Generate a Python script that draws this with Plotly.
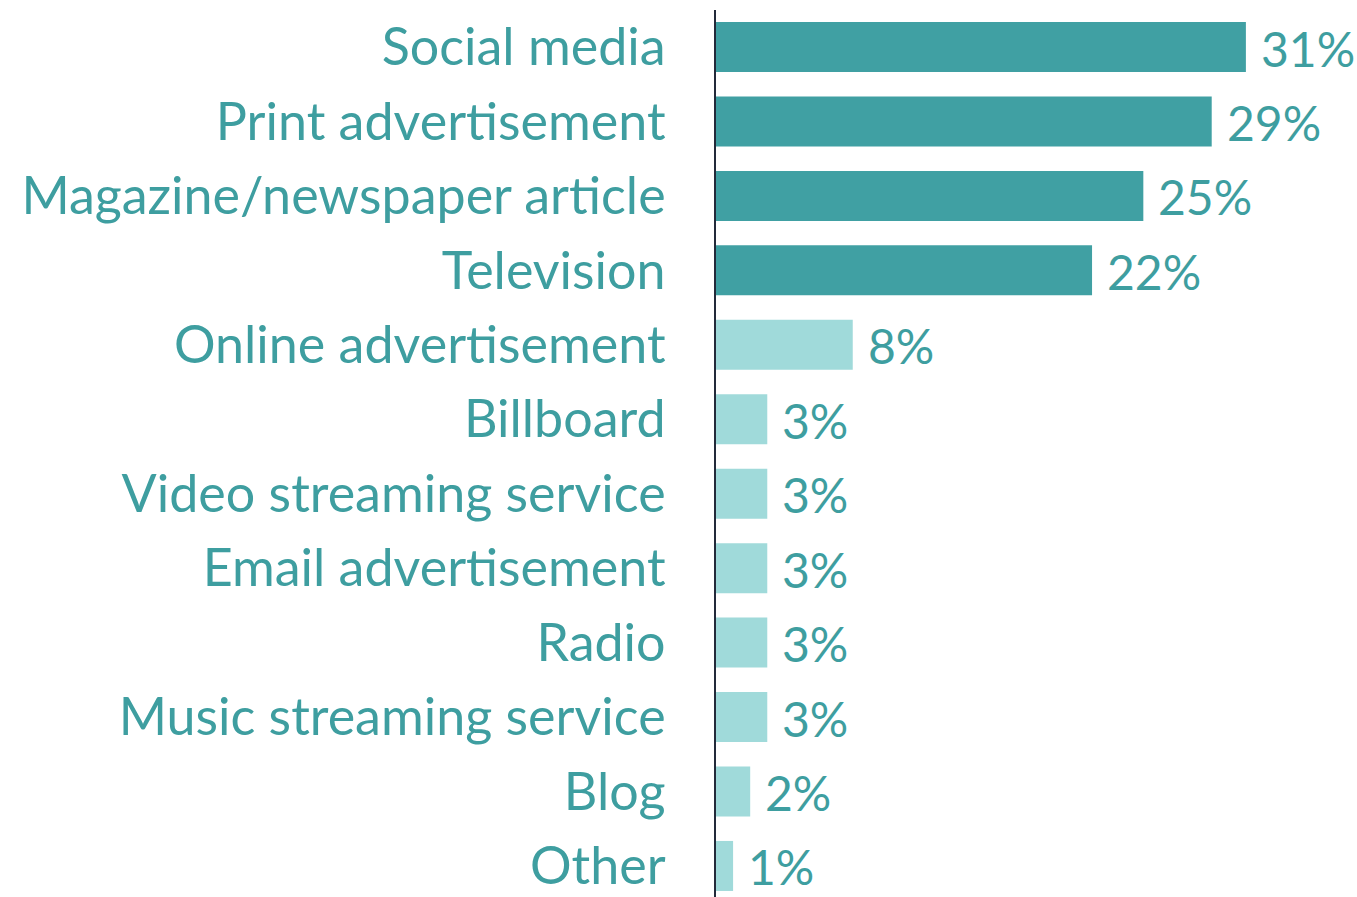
import plotly.graph_objects as go

categories = [
    "Social media", "Print advertisement", "Magazine/newspaper article",
    "Television", "Online advertisement", "Billboard",
    "Video streaming service", "Email advertisement", "Radio",
    "Music streaming service", "Blog", "Other",
]
values = [31, 29, 25, 22, 8, 3, 3, 3, 3, 3, 2, 1]
highlight = [True, True, True, True, False, False, False, False, False, False, False, False]

DARK = "#40A0A3"
LIGHT = "#A0DADA"
TEXT = "#3E9EA0"
FONT = "Lato"
LABEL_SIZE = 52
VALUE_SIZE = 48

positions = list(range(len(categories)))
colors = [DARK if h else LIGHT for h in highlight]

fig = go.Figure(
    go.Bar(
        x=values,
        y=positions,
        orientation="h",
        marker=dict(color=colors, line=dict(width=0)),
        width=0.672,
        hoverinfo="skip",
    )
)

for p, v in zip(positions, values):
    fig.add_annotation(
        x=v, y=p, text=f"{v}%", showarrow=False,
        xanchor="left", yanchor="middle", xshift=13, yshift=-1,
        font=dict(family=FONT, size=VALUE_SIZE, color=TEXT),
    )

fig.update_layout(
    width=1357, height=897,
    margin=dict(l=716, r=0, t=10, b=0),
    paper_bgcolor="white", plot_bgcolor="white",
    showlegend=False,
    font=dict(family=FONT, size=LABEL_SIZE, color=TEXT),
)
fig.update_xaxes(
    range=[0, 37.5], visible=False, fixedrange=True,
)
fig.update_yaxes(
    range=[11.417, -0.497],
    tickmode="array", tickvals=positions, ticktext=categories,
    showgrid=False, zeroline=False,
    showline=True, linecolor="#232A3A", linewidth=2,
    ticks="", ticklabelstandoff=38,
    tickfont=dict(family=FONT, size=LABEL_SIZE, color=TEXT),
    fixedrange=True,
)

fig.write_html("out.html", config={"displayModeBar": False})
